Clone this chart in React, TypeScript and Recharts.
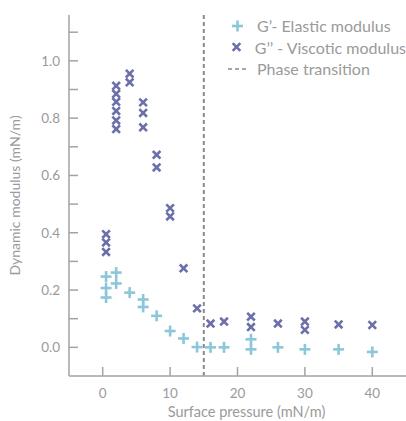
import React from "react";
import {
  Legend,
  ReferenceLine,
  Scatter,
  ScatterChart,
  XAxis,
  YAxis,
} from "recharts";

// G' elastic modulus
const elasticX = [0.5, 0.5, 0.5, 2, 2, 4, 6, 6, 8, 10, 12, 14, 16, 18, 22, 22, 26, 30, 35, 40];
const elasticY = [0.247, 0.207, 0.174, 0.261, 0.223, 0.191, 0.167, 0.141, 0.11, 0.057, 0.031, 0.001, 0.0, 0.0, 0.028, -0.007, 0.0, -0.007, -0.007, -0.016];

// G'' viscous modulus
const viscousX = [0.5, 0.5, 0.5, 2, 2, 2, 2, 2, 2, 4, 4, 6, 6, 6, 8, 8, 10, 10, 12, 14, 16, 18, 22, 22, 26, 30, 30, 35, 40];
const viscousY = [0.395, 0.366, 0.333, 0.913, 0.885, 0.857, 0.825, 0.792, 0.762, 0.955, 0.925, 0.855, 0.818, 0.768, 0.672, 0.628, 0.486, 0.457, 0.276, 0.136, 0.083, 0.09, 0.107, 0.071, 0.083, 0.09, 0.061, 0.08, 0.078];

const xTicks = [0, 10, 20, 30, 40];
const yTicks = [0, 0.1, 0.2, 0.3, 0.4, 0.5, 0.6, 0.7, 0.8, 0.9, 1.0, 1.1];
const phaseTransition = 15;

const elasticLabel = "G\u2019- Elastic modulus";
const viscousLabel = "G\u2019\u2019 - Viscotic modulus";
const phaseLabel = "Phase transition";

const elastic = elasticX.map((x, i) => ({ x, y: elasticY[i] }));
const viscous = viscousX.map((x, i) => ({ x, y: viscousY[i] }));

const BLUE = "#8bc7d9";
const PURPLE = "#6c6fa9";
const GREY = "#a3a3a3";
const TEXT = "#9a9a9a";
const FONT = "Lato, 'Open Sans', sans-serif";

function Plus(props: any) {
  const { cx, cy } = props;
  if (cx == null || cy == null) return null;
  return (
    <g stroke={BLUE} strokeWidth={2.6}>
      <line x1={cx - 5.5} y1={cy} x2={cx + 5.5} y2={cy} />
      <line x1={cx} y1={cy - 5.5} x2={cx} y2={cy + 5.5} />
    </g>
  );
}

function Cross(props: any) {
  const { cx, cy } = props;
  if (cx == null || cy == null) return null;
  return (
    <g stroke={PURPLE} strokeWidth={2.6}>
      <line x1={cx - 3.8} y1={cy - 3.8} x2={cx + 3.8} y2={cy + 3.8} />
      <line x1={cx - 3.8} y1={cy + 3.8} x2={cx + 3.8} y2={cy - 3.8} />
    </g>
  );
}

function LegendBox() {
  const row = { display: "flex", alignItems: "center", height: 21.5 } as const;
  const text = { marginLeft: 10, color: TEXT, fontSize: 16, fontFamily: FONT, whiteSpace: "nowrap" } as const;
  return (
    <div>
      <div style={row}>
        <svg width={19} height={14}>
          <Plus cx={9.5} cy={7} />
        </svg>
        <span style={text}>{elasticLabel}</span>
      </div>
      <div style={row}>
        <svg width={19} height={14}>
          <Cross cx={8.5} cy={7} />
        </svg>
        <span style={text}>{viscousLabel}</span>
      </div>
      <div style={row}>
        <svg width={19} height={14}>
          <line x1={0} y1={7} x2={19} y2={7} stroke="#8a8a8a" strokeWidth={1.5} strokeDasharray="4 3" />
        </svg>
        <span style={text}>{phaseLabel}</span>
      </div>
    </div>
  );
}

export default function App() {
  const tickStyle = { fill: TEXT, fontSize: 13.5, fontFamily: FONT };
  return (
    <div style={{ position: "absolute", left: 0, top: 0 }}>
      <ScatterChart width={406} height={421} margin={{ top: 15, right: 0, bottom: 0, left: 0 }}>
        <XAxis
          type="number"
          dataKey="x"
          domain={[-5, 45]}
          ticks={xTicks}
          allowDataOverflow
          height={45}
          tickSize={-9}
          tickMargin={21}
          tick={tickStyle}
          stroke={GREY}
          strokeWidth={1.5}
          label={{
            content: (p: any) => (
              <text
                x={p.viewBox.x + p.viewBox.width / 2 + 9}
                y={417}
                textAnchor="middle"
                fill={TEXT}
                fontSize={14.5}
                fontFamily={FONT}
              >
                Surface pressure (mN/m)
              </text>
            ),
          }}
        />
        <YAxis
          type="number"
          dataKey="y"
          domain={[-0.1, 1.16]}
          ticks={yTicks}
          allowDataOverflow
          width={69}
          tickSize={-9}
          tickMargin={18}
          tick={tickStyle}
          tickFormatter={(v: number) => (Math.round(v * 10) % 2 === 0 ? v.toFixed(1) : "")}
          stroke={GREY}
          strokeWidth={1.5}
          label={{
            value: "Dynamic modulus (mN/m)",
            angle: -90,
            position: "insideLeft",
            offset: 15,
            style: { textAnchor: "middle", fill: TEXT, fontSize: 14, fontFamily: FONT },
          }}
        />
        <ReferenceLine x={phaseTransition} stroke="#8a8a8a" strokeWidth={2} strokeDasharray="4 3" />
        <Scatter data={elastic} shape={<Plus />} isAnimationActive={false} />
        <Scatter data={viscous} shape={<Cross />} isAnimationActive={false} />
        <Legend
          content={() => <LegendBox />}
          layout="vertical"
          verticalAlign="middle"
          align="center"
          wrapperStyle={{ top: 15, left: 228, width: 178 }}
        />
      </ScatterChart>
    </div>
  );
}
